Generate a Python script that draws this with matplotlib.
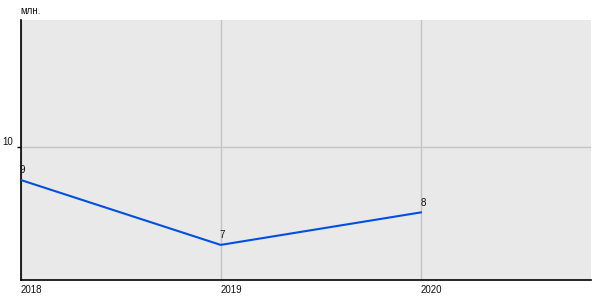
import matplotlib
matplotlib.use("Agg")
import matplotlib.pyplot as plt

years = [2018, 2019, 2020]
values = [9, 7, 8]
value_labels = ["9", "7", "8"]
y_ticks = [10]
y_tick_labels = ["10"]
unit_label = "млн."

plt.rcParams['font.family'] = ['Liberation Sans', 'DejaVu Sans']

fig = plt.figure(figsize=(6, 3), dpi=100)
ax = fig.add_axes([20.5 / 600, 20 / 300, 570.5 / 600, 260 / 300])
ax.set_facecolor('#e9e9e9')

ax.plot(years, values, color='#0050e0', linewidth=1.5, zorder=3)
for x, y, s in zip(years, values, value_labels):
    ax.annotate(s, (x, y), xytext=(-0.5, 3.5), textcoords='offset points',
                ha='left', va='bottom', fontsize=7, color='#111111')

ax.set_xlim(2018, 2020.85)
ax.set_ylim(5.92, 13.92)
ax.set_xticks(years)
ax.set_xticklabels([str(y) for y in years], ha='left', fontsize=7, color='#111111')
ax.set_yticks(y_ticks)
ax.set_yticklabels(y_tick_labels, fontsize=7, color='#111111', va='bottom')
ax.tick_params(axis='x', length=0, pad=3.5)
ax.tick_params(axis='y', length=3, width=1, pad=2)

ax.grid(True, color='#c4c4c4', linewidth=1)
ax.set_axisbelow(True)
for side in ['top', 'right']:
    ax.spines[side].set_visible(False)
for side in ['left', 'bottom']:
    ax.spines[side].set_linewidth(1.2)
    ax.spines[side].set_color('black')

fig.text(20 / 600, 1 - 11 / 300, unit_label, fontsize=7, color='#111111', va='center', ha='left')

fig.savefig('out.png', dpi=100)
